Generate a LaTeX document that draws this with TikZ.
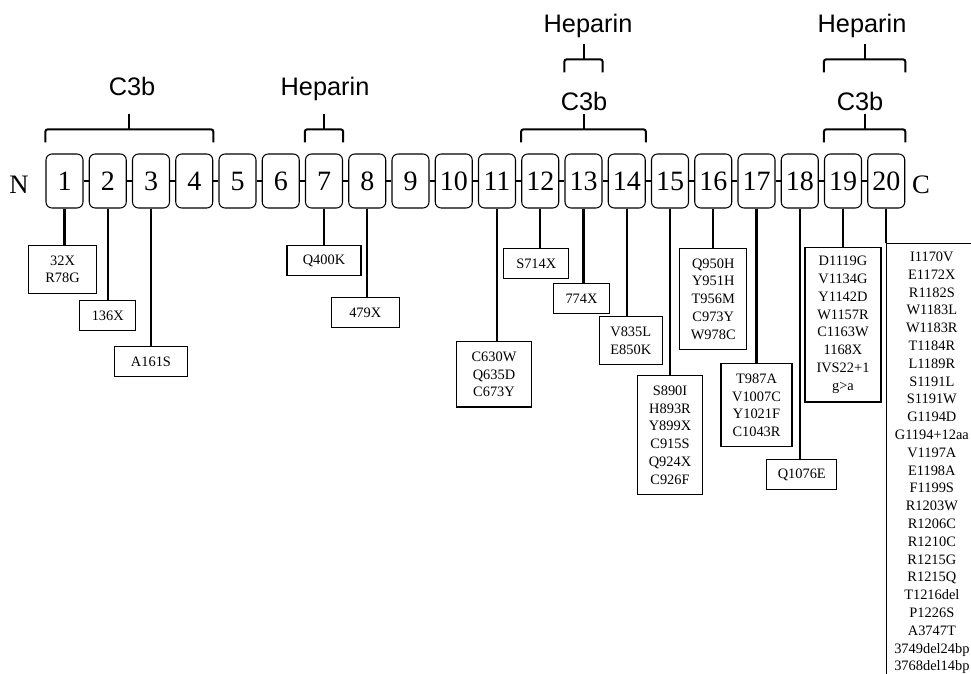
\documentclass[tikz,border=0pt]{standalone}
\usepackage{fontspec}
\setmainfont{Liberation Serif}
\newfontfamily\sitefont{Liberation Sans}
\usetikzlibrary{calc}

\begin{document}
\begin{tikzpicture}[x=0.75pt,y=-0.75pt,
  scr/.style={draw,rounded corners=4.5pt,minimum width=27.75pt,minimum height=40.5pt,inner sep=0pt,line width=0.8pt,font=\fontsize{21}{24}\selectfont},
  link/.style={line width=1.6pt},
  stalk/.style={line width=1.6pt},
  mutbox/.style={draw,line width=0.9pt,align=center,inner sep=0pt,font=\fontsize{10.8}{13.35}\selectfont},
  bindbrace/.style={line width=1.5pt,rounded corners=1.5pt},
  site/.style={font=\sitefont\fontsize{19}{22}\selectfont,anchor=base},
  term/.style={font=\fontsize{20}{24}\selectfont,anchor=base}]

      \useasboundingbox (0,0) rectangle (971,674);
      \clip (0,0) rectangle (971,674);

      % SCR domains
      \foreach \i in {1,...,20}
        \node[scr] (d\i) at ({64.5+43.25*(\i-1)},181) {\i};
      \foreach \i [evaluate=\i as \j using int(\i+1)] in {1,...,19}
        \draw[link] (d\i) -- (d\j);

      \node[term] (nterm) at (19,193) {N};
      \node[term] (cterm) at (921,193) {C};

      % binding sites
      \foreach \a/\z/\lift in {1/4/18, 7/7/18, 12/14/18, 19/20/18, 13/13/70.5, 19/20/70.5} {
        \draw[bindbrace] ([yshift=\lift pt-9.75pt]d\a.north west) -- ([yshift=\lift pt]d\a.north west)
          -- ([yshift=\lift pt]d\z.north east) -- ([yshift=\lift pt-9.75pt]d\z.north east);
        \draw[bindbrace] ($(d\a.north west)!.5!(d\z.north east)+(0pt,\lift pt)$) -- ++(0pt,11.25pt);
      }
      \node[site] (c3bA) at (132,95) {C3b};
      \node[site] (hepA) at (325,95) {Heparin};
      \node[site] (c3bB) at (584,110) {C3b};
      \node[site] (hepB) at (588,33) {Heparin};
      \node[site] (c3bC) at (860,110) {C3b};
      \node[site] (hepC) at (862,33) {Heparin};

      % mutations
      \foreach \i/\y/\w/\n/\dx/\t in {
        1/245/68/2/-2/{32X\\R78G},
        2/300/56/1/0/{136X},
        3/346/73/1/0/{A161S},
        7/245/74/1/0/{Q400K},
        8/297/68/1/-2/{479X},
        11/341/75/3/-3/{C630W\\Q635D\\C673Y},
        12/248/65/1/-4/{S714X},
        13/283/56/1/-2/{774X},
        14/316/63/2/4/{V835L\\E850K},
        15/375/65/6/0/{S890I\\H893R\\Y899X\\C915S\\Q924X\\C926F},
        16/248/67/5/0/{Q950H\\Y951H\\T956M\\C973Y\\W978C},
        17/363/71/4/0/{T987A\\V1007C\\Y1021F\\C1043R},
        18/459/70/1/2/{Q1076E},
        19/247/76/8/0/{D1119G\\V1134G\\Y1142D\\W1157R\\C1163W\\1168X\\IVS22+1\\g>a}} {
        \node[mutbox,anchor=north,xshift=\dx*0.75pt,minimum width=\w*0.75pt,minimum height=(17.8*\n+12)*0.75pt]
          (m\i) at (d\i.south |- 0,\y) {\t};
        \draw[stalk] (d\i.south) -- (d\i.south |- m\i.north);
      }
      \node[mutbox,anchor=north west,minimum width=67.5pt,minimum height=329pt] (m20) at (d20.south |- 0,243)
        {I1170V\\E1172X\\R1182S\\W1183L\\W1183R\\T1184R\\L1189R\\S1191L\\S1191W\\G1194D\\G1194+12aa\\V1197A\\E1198A\\F1199S\\R1203W\\R1206C\\R1210C\\R1215G\\R1215Q\\T1216del\\P1226S\\A3747T\\3749del24bp\\3768del14bp};
      \draw[stalk] (d20.south) -- (m20.north west);
    \end{tikzpicture}
\end{document}
